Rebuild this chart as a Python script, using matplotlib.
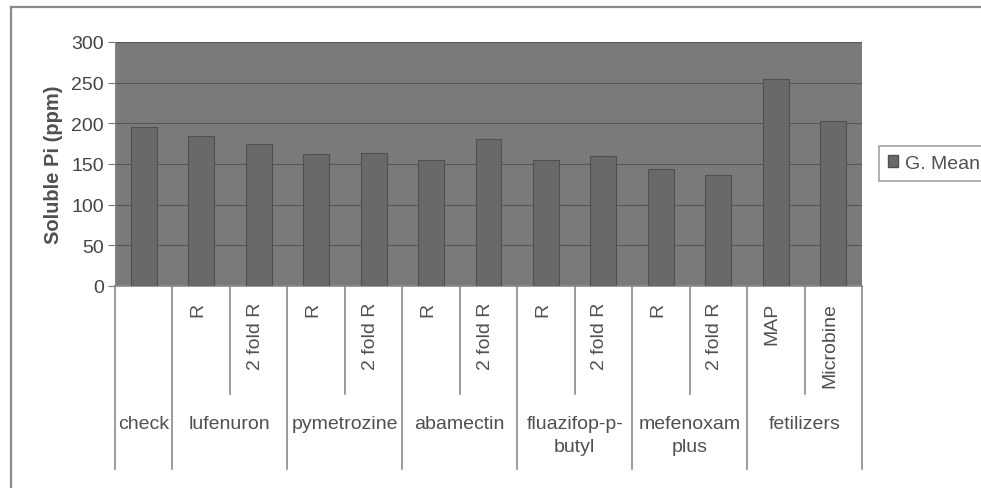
import matplotlib
matplotlib.use("Agg")
import matplotlib.pyplot as plt
from matplotlib.lines import Line2D
from matplotlib.patches import Patch

plt.rcParams['font.family'] = ['Liberation Sans', 'DejaVu Sans']

# Treatment groups and their sub-levels (one bar per sub-level)
groups = ["check", "lufenuron", "pymetrozine", "abamectin",
          "fluazifop-p-\nbutyl", "mefenoxam\nplus", "fetilizers"]
group_sizes = [1, 2, 2, 2, 2, 2, 2]
sub_labels = ["", "R", "2 fold R", "R", "2 fold R", "R", "2 fold R",
              "R", "2 fold R", "R", "2 fold R", "MAP", "Microbine"]
g_mean = [195, 185, 175, 162, 164, 155, 181, 155, 160, 144, 137, 255, 203]

yticks = [0, 50, 100, 150, 200, 250, 300]

W, H = 981, 489
fig = plt.figure(figsize=(W / 100, H / 100), dpi=100)
fig.patch.set_facecolor("white")

# outer frame of the chart area
fig.add_artist(Line2D([11 / W, 11 / W], [0, 1 - 8 / H], color="#8a8a8a", lw=1.6))
fig.add_artist(Line2D([11 / W, 1], [1 - 8 / H, 1 - 8 / H], color="#8a8a8a", lw=1.6))

left, right, top, bottom = 115, 862, 43, 287
ax = fig.add_axes([left / W, 1 - bottom / H, (right - left) / W, (bottom - top) / H])
ax.set_facecolor("#7a7a7a")

n = len(g_mean)
x = list(range(n))
ax.bar(x, g_mean, width=0.45, color="#696969", edgecolor="#505050", linewidth=0.8, zorder=3)

ax.set_xlim(-0.5, n - 0.5)
ax.set_ylim(0, 300)
ax.set_yticks(yticks)
ax.set_yticklabels([str(v) for v in yticks], fontsize=14, color="#444444")
ax.yaxis.grid(True, color="#575757", linewidth=0.8, zorder=1)
ax.set_axisbelow(True)
ax.tick_params(axis="y", length=5, width=0.8, color="#777777", pad=3)
ax.set_xticks([])
for s in ["top", "right"]:
    ax.spines[s].set_visible(False)
ax.spines["left"].set_color("#8a8a8a")
ax.spines["bottom"].set_color("#8a8a8a")
ax.spines["bottom"].set_linewidth(1.2)

ax.set_ylabel("Soluble Pi (ppm)", fontsize=14.5, fontweight="bold", color="#505050", labelpad=6)

# multi-level category axis below the plot
trans = ax.get_xaxis_transform()
h_ax = (bottom - top) / H
def ypx(py):
    return ((1 - py / H) - (1 - bottom / H)) / h_ax

y_long = ypx(470)
y_short = ypx(395)
boundaries = [-0.5]
pos = -0.5
for size in group_sizes:
    pos += size
    boundaries.append(pos)
for b in [i - 0.5 for i in range(n + 1)]:
    yend = y_long if b in boundaries else y_short
    ax.plot([b, b], [0, yend], transform=trans, color="#8a8a8a", lw=1.2, clip_on=False)

for i, lab in enumerate(sub_labels):
    if lab:
        ax.text(i - 0.06, ypx(303), lab, transform=trans, rotation=90,
                ha="center", va="top", fontsize=14, color="#505050")

start = 0
for g, size in zip(groups, group_sizes):
    center = start + (size - 1) / 2
    ax.text(center, ypx(416), g, transform=trans, ha="center", va="top",
            fontsize=14, color="#505050", linespacing=1.45)
    start += size

leg = fig.legend(handles=[Patch(facecolor="#696969", edgecolor="#505050", label="G. Mean")],
                 loc="upper left", bbox_to_anchor=(879 / W, 1 - 147 / H),
                 bbox_transform=fig.transFigure, fontsize=14, frameon=True,
                 fancybox=False, borderaxespad=0, handlelength=0.55, handleheight=0.55,
                 handletextpad=0.35, borderpad=0.45)
leg.get_frame().set_edgecolor("#8a8a8a")
leg.get_frame().set_linewidth(1.2)
for t in leg.get_texts():
    t.set_color("#505050")

fig.savefig("out.png", dpi=100)
